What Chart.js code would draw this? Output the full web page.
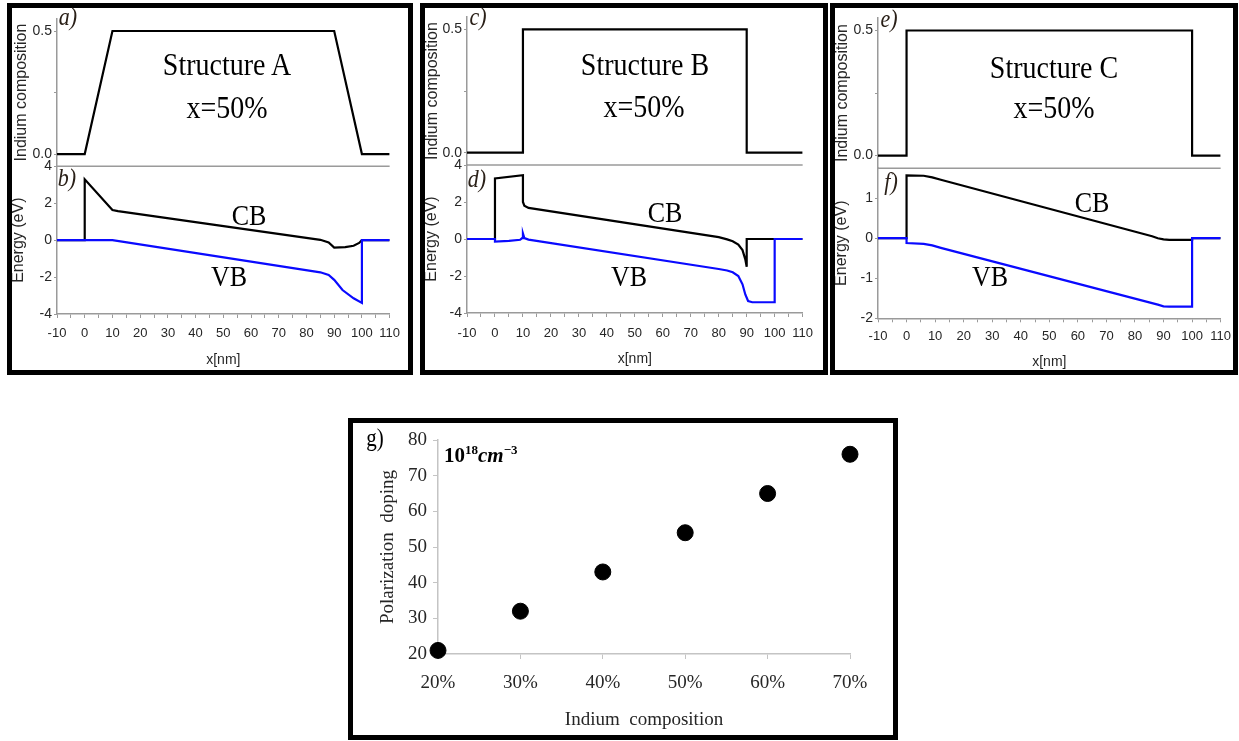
<!DOCTYPE html>
<html>
<head>
<meta charset="utf-8">
<script src="https://cdn.jsdelivr.net/npm/chart.js@4.4.1/dist/chart.umd.min.js"></script>
<style>
  body { margin: 0; width: 1239px; height: 741px; background: #fff; position: relative; overflow: hidden; }
  .frame { position: absolute; border: 5px solid #000; box-sizing: border-box; z-index: 2; pointer-events: none; }
  canvas { position: absolute; z-index: 1; }
  .lbl { position: absolute; transform: translate(-50%, -50%) scaleY(1.15); font-family: 'Liberation Serif', 'Times New Roman', serif;
         color: #000; white-space: nowrap; line-height: 1; z-index: 3; }
  .big { font-size: 28px; }
  .band { font-size: 26px; }
  .tag { font-size: 22px; font-style: italic; color: #2a2018; }
  .unit { position: absolute; font-family: 'Liberation Serif', 'Times New Roman', serif; font-size: 21px; font-weight: bold; z-index: 3; line-height: 1; }
  .unit sup { font-size: 13px; vertical-align: 8px; }
</style>
</head>
<body>

<div class="frame" style="left:7px;top:3px;width:406px;height:372px"></div>
<div class="frame" style="left:420px;top:3px;width:408px;height:372px"></div>
<div class="frame" style="left:830px;top:3px;width:408px;height:372px"></div>
<div class="frame" style="left:348px;top:418px;width:550px;height:322px"></div>

<canvas id="chartA" width="401" height="364" style="left:8px;top:8px"></canvas>
<canvas id="chartB" width="402" height="364" style="left:421px;top:8px"></canvas>
<canvas id="chartC" width="408" height="364" style="left:831px;top:8px"></canvas>
<canvas id="chartG" width="540" height="313" style="left:353px;top:423px"></canvas>

<div class="lbl tag" style="left:68px;top:17px">a)</div>
<div class="lbl tag" style="left:67px;top:178px">b)</div>
<div class="lbl big" style="left:227px;top:65px">Structure A</div>
<div class="lbl big" style="left:227px;top:108px">x=50%</div>
<div class="lbl band" style="left:249px;top:216px">CB</div>
<div class="lbl band" style="left:229px;top:277px">VB</div>

<div class="lbl tag" style="left:478px;top:17px">c)</div>
<div class="lbl tag" style="left:477px;top:179px">d)</div>
<div class="lbl big" style="left:645px;top:65px">Structure B</div>
<div class="lbl big" style="left:644px;top:107px">x=50%</div>
<div class="lbl band" style="left:665px;top:213px">CB</div>
<div class="lbl band" style="left:629px;top:277px">VB</div>

<div class="lbl tag" style="left:889px;top:19px">e)</div>
<div class="lbl tag" style="left:891px;top:182px">f)</div>
<div class="lbl big" style="left:1054px;top:68px">Structure C</div>
<div class="lbl big" style="left:1054px;top:108px">x=50%</div>
<div class="lbl band" style="left:1092px;top:203px">CB</div>
<div class="lbl band" style="left:990px;top:277px">VB</div>

<div class="lbl" style="left:375px;top:439px;font-size:21px">g)</div>
<div class="unit" style="left:444px;top:443px">10<sup>18</sup><i>cm</i><sup>&minus;3</sup></div>

<script>
// Structure A: graded well, x in nm
const xCompA = [-10, 0, 10, 90, 100, 110];
const compA  = [0, 0, 0.5, 0.5, 0, 0];
const xCbA = [-10, 0, 0, 10, 12, 85, 88, 90, 94, 97, 99, 100, 110];
const cbA  = [0, 0, 3.3, 1.63, 1.57, 0.02, -0.12, -0.4, -0.38, -0.3, -0.15, 0, 0];
const xVbA = [-10, 10, 85, 88, 90, 93, 97, 100, 100, 110];
const vbA  = [0, 0, -1.74, -1.88, -2.15, -2.7, -3.15, -3.4, 0, 0];

// Structure B: abrupt well from 10 to 90 nm
const xCompB = [-10, 10, 10, 90, 90, 110];
const compB  = [0, 0, 0.5, 0.5, 0, 0];
const xCbB = [-10, 0, 0, 10, 10, 10.5, 12, 80, 83, 85, 87, 88.5, 89.5, 90, 90, 100, 110];
const cbB  = [0, 0, 3.27, 3.45, 2.0, 1.8, 1.68, 0.1, -0.02, -0.12, -0.3, -0.6, -1.1, -1.5, 0, 0, 0];
const xVbB = [-10, 0, 0, 5, 9, 9.7, 10, 10.5, 12, 80, 83, 85, 87, 88.5, 89.5, 90.5, 92, 100, 100, 110];
const vbB  = [0, 0, -0.14, -0.1, -0.04, 0.05, 0.3, 0.05, -0.03, -1.62, -1.7, -1.8, -2.0, -2.45, -3.0, -3.35, -3.42, -3.42, 0, 0];

// Structure C: abrupt well from 0 to 100 nm
const xCompC = [-10, 0, 0, 100, 100, 110];
const compC  = [0, 0, 0.5, 0.5, 0, 0];
const xCbC = [-10, 0, 0, 6, 9, 12, 86, 88, 90, 92, 100, 100, 110];
const cbC  = [0, 0, 1.57, 1.56, 1.52, 1.46, 0.05, 0.0, -0.03, -0.04, -0.04, 0, 0];
const xVbC = [-10, 0, 0, 6, 9, 12, 88, 90, 92, 100, 100, 110];
const vbC  = [0, 0, -0.12, -0.14, -0.18, -0.24, -1.66, -1.7, -1.71, -1.71, 0, 0];

// g) polarization doping vs indium content
const indiumPct = [20, 30, 40, 50, 60, 70];
const polDoping = [21, 32, 43, 54, 65, 76];

const axisColor = '#9a9a9a';
const textColor = '#262626';
const sans = "'Liberation Sans', Arial, sans-serif";
const serif = "'Liberation Serif', 'Times New Roman', serif";

const pts = (xs, ys) => xs.map((x, i) => ({ x: x, y: ys[i] }));

function line(data, color, axis) {
    return {
        data: data,
        yAxisID: axis,
        showLine: true,
        borderColor: color,
        borderWidth: 2.2,
        pointRadius: 0,
        tension: 0,
        fill: false
    };
}

// grey line between the composition and the energy plot
const separator = {
    id: 'separator',
    beforeDatasetsDraw(chart) {
        const { ctx, chartArea } = chart;
        const y = chart.scales.ye.top;
        ctx.save();
        ctx.strokeStyle = axisColor;
        ctx.lineWidth = 1.5;
        ctx.beginPath();
        ctx.moveTo(chartArea.left, y);
        ctx.lineTo(chartArea.right, y);
        ctx.stroke();
        ctx.restore();
    }
};

function bandChart(id, c) {
    const tickFont = { family: sans, size: 14, lineHeight: 1 };
    const titleFont = { family: sans, size: 16, lineHeight: 1 };
    return new Chart(document.getElementById(id), {
        type: 'scatter',
        data: {
            datasets: [
                line(pts(c.xVb, c.vb), '#0a0aff', 'ye'),
                line(pts(c.xCb, c.cb), '#000', 'ye'),
                line(pts(c.xComp, c.comp), '#000', 'yc')
            ]
        },
        options: {
            responsive: false,
            animation: false,
            layout: { padding: { top: c.top, right: c.right, left: 0, bottom: 0 } },
            plugins: { legend: { display: false }, tooltip: { enabled: false } },
            scales: {
                x: {
                    type: 'linear', min: -10, max: 110,
                    ticks: {
                        stepSize: 5, autoSkip: false, maxRotation: 0, color: textColor,
                        font: { family: sans, size: 13, lineHeight: 1 }, padding: c.xPad,
                        callback: v => (v % 10 === 0 ? String(v) : '')
                    },
                    grid: { drawOnChartArea: false, tickLength: 4, color: axisColor },
                    border: { color: axisColor, width: 1.5 },
                    title: { display: true, text: 'x[nm]', color: textColor,
                             font: { family: sans, size: 14, lineHeight: 1.2 }, padding: { top: 0, bottom: c.titlePad } },
                    afterFit: s => { s.height = c.xh; }
                },
                yc: {
                    type: 'linear', position: 'left', stack: 'panel', stackWeight: 1, weight: 2,
                    min: -0.05, max: 0.55,
                    ticks: {
                        stepSize: 0.25, includeBounds: false, color: textColor, font: tickFont, padding: 2,
                        callback: v => (v === 0 ? '0.0' : v === 0.5 ? '0.5' : '')
                    },
                    grid: { drawOnChartArea: false, tickLength: 3, color: axisColor },
                    border: { color: axisColor, width: 1.5 },
                    title: { display: true, text: 'Indium composition', color: textColor,
                             font: titleFont, padding: { top: c.compPad, bottom: 0 } },
                    afterFit: s => { s.width = c.yw; }
                },
                ye: {
                    type: 'linear', position: 'left', stack: 'panel', stackWeight: 1, weight: 1,
                    min: c.eMin, max: c.eMax,
                    ticks: {
                        stepSize: c.eStep, includeBounds: false, color: textColor, font: tickFont, padding: 2,
                        callback: v => (Math.abs(v % c.eLabel) < 1e-9 ? String(v) : '')
                    },
                    grid: { drawOnChartArea: false, tickLength: 3, color: axisColor },
                    border: { color: axisColor, width: 1.5 },
                    title: { display: true, text: 'Energy (eV)', color: textColor,
                             font: titleFont, padding: { top: c.energyPad, bottom: 0 } },
                    afterFit: s => { s.width = c.yw; }
                }
            }
        },
        plugins: [separator]
    });
}

bandChart('chartA', {
    xComp: xCompA, comp: compA, xCb: xCbA, cb: cbA, xVb: xVbA, vb: vbA,
    eMin: -4, eMax: 4, eStep: 1, eLabel: 2,
    top: 10.7, right: 11, yw: 49, xh: 58, xPad: 9, titlePad: 3.6, compPad: 6, energyPad: 3
});

bandChart('chartB', {
    xComp: xCompB, comp: compB, xCb: xCbB, cb: cbB, xVb: xVbB, vb: vbB,
    eMin: -4, eMax: 4, eStep: 1, eLabel: 2,
    top: 8, right: 16, yw: 46, xh: 59, xPad: 10, titlePad: 4.6, compPad: 4, energyPad: 3
});

bandChart('chartC', {
    xComp: xCompC, comp: compC, xCb: xCbC, cb: cbC, xVb: xVbC, vb: vbC,
    eMin: -2, eMax: 1.75, eStep: 0.5, eLabel: 1,
    top: 10, right: 11.5, yw: 47, xh: 53.7, xPad: 8, titlePad: 1.6, compPad: 4, energyPad: 3
});

new Chart(document.getElementById('chartG'), {
    type: 'scatter',
    data: {
        datasets: [{
            data: pts(indiumPct, polDoping),
            backgroundColor: '#000',
            borderColor: '#000',
            pointRadius: 8,
            pointHoverRadius: 8,
            clip: false
        }]
    },
    options: {
        responsive: false,
        animation: false,
        layout: { padding: { top: 17, right: 43, left: 0, bottom: 0 } },
        plugins: { legend: { display: false }, tooltip: { enabled: false } },
        scales: {
            x: {
                type: 'linear', min: 20, max: 70,
                ticks: { stepSize: 10, color: textColor, font: { family: serif, size: 19, lineHeight: 1 }, padding: 15,
                         callback: v => v + '%' },
                grid: { drawOnChartArea: false, tickLength: 5, color: '#c4c4c4' },
                border: { color: '#c4c4c4', width: 1.5 },
                title: { display: true, text: 'Indium  composition', color: textColor,
                         font: { family: serif, size: 19, lineHeight: 1.2 }, padding: { top: 0, bottom: 5 } },
                afterFit: s => { s.height = 82; }
            },
            y: {
                type: 'linear', min: 20, max: 80,
                ticks: { stepSize: 10, color: textColor, font: { family: serif, size: 19, lineHeight: 1 }, padding: 6 },
                grid: { drawOnChartArea: false, tickLength: 5, color: '#c4c4c4' },
                border: { color: '#c4c4c4', width: 1.5 },
                title: { display: true, text: 'Polarization  doping', color: textColor,
                         font: { family: serif, size: 19, lineHeight: 1.2 }, padding: { top: 23.6, bottom: 0 } },
                afterFit: s => { s.width = 85; }
            }
        }
    }
});
</script>
</body>
</html>
